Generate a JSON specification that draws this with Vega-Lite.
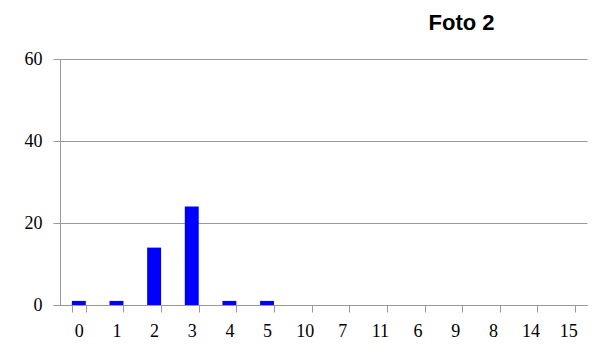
{
  "$schema": "https://vega.github.io/schema/vega-lite/v6.json",
  "autosize": "none",
  "width": 527,
  "height": 246,
  "padding": {"left": 60, "top": 59, "right": 15, "bottom": 47},
  "background": "white",
  "title": {
    "text": "Foto 2",
    "font": "Liberation Sans",
    "fontSize": 22,
    "fontWeight": "bold",
    "color": "black",
    "anchor": "middle",
    "frame": "group",
    "dx": 138,
    "offset": 15
  },
  "data": {
    "values": [
      {"k": "0", "n": 1},
      {"k": "1", "n": 1},
      {"k": "2", "n": 14},
      {"k": "3", "n": 24},
      {"k": "4", "n": 1},
      {"k": "5", "n": 1},
      {"k": "10", "n": 0},
      {"k": "7", "n": 0},
      {"k": "11", "n": 0},
      {"k": "6", "n": 0},
      {"k": "9", "n": 0},
      {"k": "8", "n": 0},
      {"k": "14", "n": 0},
      {"k": "15", "n": 0}
    ]
  },
  "mark": {"type": "bar", "color": "#0000FF"},
  "encoding": {
    "x": {
      "field": "k",
      "type": "nominal",
      "sort": null,
      "scale": {"paddingInner": 0.63, "paddingOuter": 0.315},
      "axis": {
        "title": null,
        "labelAngle": 0,
        "labelFont": "Liberation Serif",
        "labelFontSize": 18,
        "labelColor": "black",
        "labelPadding": 10,
        "tickBand": "extent",
        "tickSize": 7,
        "tickColor": "#999999",
        "domainColor": "#999999",
        "grid": false
      }
    },
    "y": {
      "field": "n",
      "type": "quantitative",
      "scale": {"domain": [0, 60], "nice": false},
      "axis": {
        "title": null,
        "values": [0, 20, 40, 60],
        "labelFont": "Liberation Serif",
        "labelFontSize": 18,
        "labelColor": "black",
        "labelPadding": 11,
        "tickSize": 7,
        "tickColor": "#999999",
        "domainColor": "#999999",
        "gridColor": "#999999",
        "gridOpacity": 1
      }
    }
  },
  "config": {"view": {"stroke": null}}
}
